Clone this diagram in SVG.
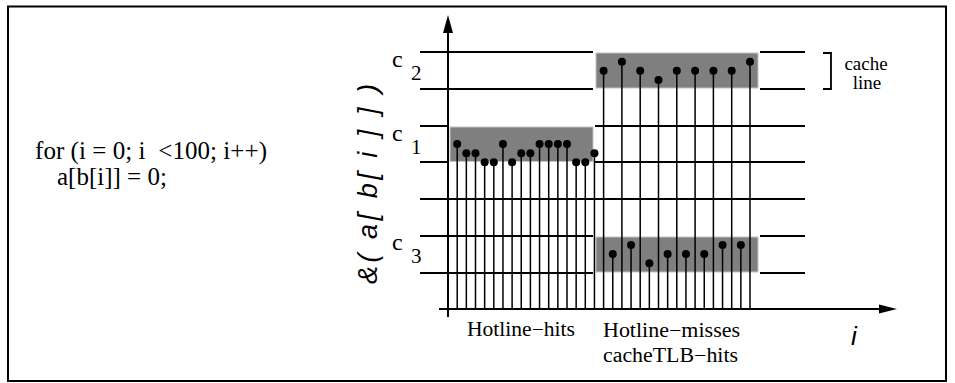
<svg xmlns="http://www.w3.org/2000/svg" width="955" height="383" viewBox="0 0 955 383">
<style>
.serif{font-family:"Liberation Serif","Times New Roman",serif;fill:#000}
.sansi{font-family:"Liberation Sans",Arial,sans-serif;font-style:italic;fill:#000}
.hl{stroke:#000;stroke-width:1.8;fill:none}
.stem{stroke:#000;stroke-width:1.5}
.box{fill:#7f7f7f;stroke:#c4c4c4;stroke-width:1}
.axis{stroke:#000;stroke-width:2;fill:none}
</style>
<defs>
<circle id="dot" r="4" fill="#000"/>
</defs>
<rect x="0" y="0" width="955" height="383" fill="#fff"/>
<rect id="frame" x="8" y="6.5" width="938" height="374.5" fill="none" stroke="#000" stroke-width="2"/>

<g id="code">
<text class="serif" x="35" y="159" font-size="25" xml:space="preserve" textLength="232" lengthAdjust="spacing">for (i = 0; i  &lt;100; i++)</text>
<text class="serif" x="57" y="185" font-size="25">a[b[i]] = 0;</text>
</g>

<g id="gridlines">
<path class="hl" d="M420 52H593M760 52H805M420 89H593M760 89H805M420 126H448M595 126H805M420 162H448M595 162H805M420 199H805M420 236H593M760 236H805M420 273H593M760 273H805"/>
</g>

<g id="boxes">
<rect id="box-c2" class="box" x="596" y="53" width="162" height="35"/>
<rect id="box-c1" class="box" x="450" y="127" width="143" height="34.5"/>
<rect id="box-c3" class="box" x="596" y="237" width="162" height="35"/>
</g>

<g id="axes">
<path class="axis" d="M448 317V30"/>
<polygon points="448,15 443,33 453,33" fill="#000"/>
<path class="axis" d="M439 309H882"/>
<polygon points="897,309 879,304.5 879,313.5" fill="#000"/>
</g>

<g id="stems">
<path class="stem" d="M457.2 309V144M466.35 309V153.3M475.5 309V153.3M484.65 309V162.3M493.8 309V162.3M502.95 309V144M512.1 309V162.3M521.25 309V153.3M530.4 309V153.3M539.55 309V144M548.7 309V144M557.85 309V144M567 309V144M576.15 309V162.3M585.3 309V162.3M594.45 309V153.3"/>
<path class="stem" d="M603.6 309V70.7M621.9 309V61.7M640.2 309V70.7M658.5 309V80M676.8 309V70.7M695.1 309V70.7M713.4 309V70.7M731.7 309V70.7M750 309V61.7"/>
<path class="stem" d="M612.75 309V254M631.05 309V245M649.35 309V263.3M667.65 309V254M685.95 309V254M704.25 309V254M722.55 309V245M740.85 309V245"/>
</g>

<g id="dots">
<use href="#dot" x="457.2" y="144"/><use href="#dot" x="466.35" y="153.3"/><use href="#dot" x="475.5" y="153.3"/><use href="#dot" x="484.65" y="162.3"/><use href="#dot" x="493.8" y="162.3"/><use href="#dot" x="502.95" y="144"/><use href="#dot" x="512.1" y="162.3"/><use href="#dot" x="521.25" y="153.3"/><use href="#dot" x="530.4" y="153.3"/><use href="#dot" x="539.55" y="144"/><use href="#dot" x="548.7" y="144"/><use href="#dot" x="557.85" y="144"/><use href="#dot" x="567" y="144"/><use href="#dot" x="576.15" y="162.3"/><use href="#dot" x="585.3" y="162.3"/><use href="#dot" x="594.45" y="153.3"/>
<use href="#dot" x="603.6" y="70.7"/><use href="#dot" x="621.9" y="61.7"/><use href="#dot" x="640.2" y="70.7"/><use href="#dot" x="658.5" y="80"/><use href="#dot" x="676.8" y="70.7"/><use href="#dot" x="695.1" y="70.7"/><use href="#dot" x="713.4" y="70.7"/><use href="#dot" x="731.7" y="70.7"/><use href="#dot" x="750" y="61.7"/>
<use href="#dot" x="612.75" y="254"/><use href="#dot" x="631.05" y="245"/><use href="#dot" x="649.35" y="263.3"/><use href="#dot" x="667.65" y="254"/><use href="#dot" x="685.95" y="254"/><use href="#dot" x="704.25" y="254"/><use href="#dot" x="722.55" y="245"/><use href="#dot" x="740.85" y="245"/>
</g>

<g id="labels">
<text class="serif" x="392" y="67" font-size="24">c</text>
<text class="serif" x="411" y="80" font-size="21">2</text>
<text class="serif" x="392" y="141" font-size="24">c</text>
<text class="serif" x="411" y="154" font-size="21">1</text>
<text class="serif" x="392" y="250" font-size="24">c</text>
<text class="serif" x="411" y="263" font-size="21">3</text>
<text class="sansi" font-size="27" transform="translate(377,284) rotate(-90)" textLength="200" lengthAdjust="spacing">&amp;( a[ b[ i ] ] )</text>
<text class="sansi" x="851" y="345" font-size="26">i</text>
<text class="serif" x="467" y="336" font-size="20" textLength="108" lengthAdjust="spacingAndGlyphs">Hotline−hits</text>
<text class="serif" x="603" y="337" font-size="20" textLength="137" lengthAdjust="spacingAndGlyphs">Hotline−misses</text>
<text class="serif" x="603" y="362" font-size="20" textLength="135" lengthAdjust="spacingAndGlyphs">cacheTLB−hits</text>
</g>

<g id="cacheline-legend">
<path class="hl" d="M823 53H831V89H823"/>
<text class="serif" x="866" y="70" font-size="19" text-anchor="middle">cache</text>
<text class="serif" x="867" y="89" font-size="19" text-anchor="middle">line</text>
</g>
</svg>
